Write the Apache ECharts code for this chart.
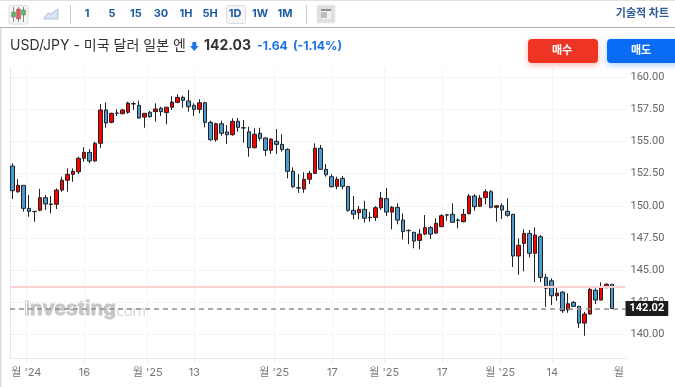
<!DOCTYPE html>
<html><head><meta charset="utf-8">
<style>html,body{margin:0;padding:0;background:#fff}#c{width:675px;height:387px}</style>
<script src="https://cdn.jsdelivr.net/npm/echarts@6/dist/echarts.min.js"></script>
</head><body><div id="c"></div>
<script>
const opens=[153.09,151.09,151.59,149.80,149.57,149.65,150.63,150.14,150.12,151.22,151.98,152.44,152.64,153.69,154.15,153.48,154.85,157.44,156.48,157.20,157.15,157.26,157.93,157.80,156.89,157.26,157.31,157.57,157.23,157.65,158.03,158.42,158.14,157.80,157.49,158.00,156.48,155.13,156.37,155.73,155.52,156.56,156.06,155.75,154.51,155.63,155.26,154.31,155.01,154.77,154.38,152.68,151.40,151.30,152.06,152.52,154.46,152.83,152.26,151.51,152.13,151.51,149.65,149.46,149.72,149.10,149.10,149.85,150.55,149.51,149.88,148.89,148.09,147.94,147.31,147.80,148.30,147.88,148.38,149.30,149.34,148.89,148.76,149.38,150.76,149.96,150.63,151.09,149.88,150.00,149.57,149.34,146.10,147.08,147.86,146.31,147.60,144.44,144.18,143.01,143.30,141.92,142.50,142.19,140.89,141.59,143.44,142.68,143.64,143.90];
const closes=[151.17,151.59,149.80,149.57,149.55,150.63,150.14,150.10,151.22,151.98,152.44,152.68,153.69,154.15,153.48,154.85,157.44,156.43,157.18,157.18,157.44,157.98,157.91,156.82,157.18,156.92,157.52,157.31,157.65,158.06,158.42,158.19,157.69,157.49,158.00,156.48,155.13,156.37,155.63,155.52,156.56,156.09,156.04,154.51,155.55,155.24,154.31,155.18,154.77,154.38,152.68,151.48,151.38,152.06,152.52,154.46,152.83,152.41,151.48,152.06,151.51,149.65,149.34,149.72,149.03,149.08,149.85,150.60,149.51,149.88,148.89,148.01,148.07,147.26,147.80,148.30,147.80,148.64,149.23,149.28,148.72,148.87,149.34,150.76,149.93,150.60,151.09,149.88,150.00,149.67,149.26,146.10,146.93,147.86,146.31,147.73,144.44,143.59,143.01,143.22,141.85,142.39,142.19,140.89,141.59,143.51,142.68,143.69,143.90,142.02];
const lows=[150.52,151.01,149.54,149.15,148.76,149.57,149.67,149.41,149.75,151.09,151.09,151.87,152.46,153.42,153.30,153.42,154.49,156.06,156.40,156.97,157.10,157.15,157.44,156.76,156.06,156.84,156.53,156.97,156.33,157.44,157.96,157.62,157.31,156.97,157.18,156.09,155.05,154.98,155.44,154.80,155.44,155.75,154.90,153.81,154.46,155.05,153.87,154.02,154.02,154.20,152.13,151.40,151.01,151.01,151.69,152.46,152.78,152.26,151.43,151.28,151.28,149.54,148.95,148.95,148.69,148.76,148.82,149.67,149.20,148.17,148.56,147.39,147.03,146.70,146.62,147.73,147.42,147.83,148.35,148.84,148.68,148.25,148.72,149.34,149.62,149.90,150.12,149.80,148.76,148.97,149.15,145.25,144.64,144.91,146.00,144.08,144.08,142.16,142.29,142.62,141.69,141.69,142.14,140.51,139.91,141.54,142.37,142.66,143.61,142.00];
const highs=[153.30,152.08,151.59,150.83,149.60,151.32,150.83,150.76,151.35,152.26,152.91,152.91,153.81,154.54,154.41,154.98,157.90,158.03,157.23,157.49,157.52,158.08,158.08,158.16,157.18,157.36,157.96,157.69,157.69,158.52,158.66,158.55,158.99,157.96,158.27,158.08,156.61,156.45,156.61,156.27,156.79,156.82,156.66,156.14,156.02,156.06,155.32,155.24,155.96,155.55,154.46,152.99,152.46,152.60,152.72,154.85,154.72,153.24,152.46,152.26,152.31,151.51,150.76,149.98,150.39,149.51,149.98,151.07,151.38,149.98,150.19,149.41,148.17,147.98,148.19,149.28,148.43,149.03,149.34,149.36,150.19,149.03,149.75,150.91,150.91,150.83,151.28,151.22,150.06,150.19,150.58,149.34,147.47,148.17,148.12,148.33,147.73,144.70,144.37,143.67,143.35,143.20,142.60,142.19,141.77,143.67,143.59,144.06,143.98,143.90];
const emptySlots=2;
const xTickPositions=[2.97,13.52,25.05,33.53,48.09,58.64,68.1,78.66,89.21,98.67];
const xTickLabels=["월 '24","16","월 '25","13","월 '25","17","월 '25","17","월 '25","14"];
const lastLabelPos=110.8, lastLabelText="월";
const yTicks=[140,142.5,145,147.5,150,152.5,155,157.5,160];
const yMin=138.18,yMax=160.70;
const lastPrice=142.02, prevCloseLevel=143.74;
const timeframes=["1","5","15","30","1H","5H","1D","1W","1M"];
const tfX=[87,112,136,161,186,210,235,260,285];
const cjk='"Inter","Noto Sans CJK KR",sans-serif';

const cats=opens.map((_,i)=>String(i));
for(let i=0;i<emptySlots;i++)cats.push('e'+i);
const ohlc=opens.map((o,i)=>[o,closes[i],lows[i],highs[i]]);
const labelVals=xTickPositions.concat([lastLabelPos]);
const labelTxt=xTickLabels.concat([lastLabelText]);

const g=[];
const rect=(x,y,w,h,fill,extra)=>g.push(Object.assign({type:'rect',silent:true,z:10,shape:{x,y,width:w,height:h,r:(extra&&extra.r)||0},style:Object.assign({fill},(extra&&extra.style)||{})}));
const text=(x,y,t,font,fill,align,z,extra)=>g.push({type:'text',silent:true,z:z===undefined?10:z,x,y,style:Object.assign({text:t,font,fill,align:align||'left',verticalAlign:'middle'},extra||{})});
rect(0,0,675,1,'#e0e0e0');
rect(0,27,675,1,'#b0b0b0');
rect(0,28,1.5,359,'#dcdcdc');
// toolbar
rect(9,5.5,19,18.5,'#f6f6f6',{r:2,style:{stroke:'#dcdcdc',lineWidth:1}});
rect(13,7,1,15,'#888');rect(18,7,1,15,'#888');rect(23,7,1,15,'#888');
rect(11.5,12,4,5,'#5cb85c',{style:{stroke:'#777',lineWidth:.5}});
rect(16.5,9,4,10,'#e25555',{style:{stroke:'#777',lineWidth:.5}});
rect(21.5,10,4,5,'#5cb85c',{style:{stroke:'#777',lineWidth:.5}});
g.push({type:'polygon',silent:true,z:10,shape:{points:[[44,18],[48,13],[51,14],[55,11],[58,9],[58,19],[44,19]]},style:{fill:'#dbe5f2',stroke:'#a9c0dc',lineWidth:1}});
rect(70,5,1,19,'#c8c8c8');
rect(226.5,5.5,19,18,'#f6f6f6',{r:2,style:{stroke:'#dddddd',lineWidth:1}});
timeframes.forEach((t,i)=>text(tfX[i],13.5,t,'bold 11px '+cjk,'#1d5ba6','center'));
rect(306,5,1,19,'#c8c8c8');
rect(317,5,18,18,'#dedede',{style:{stroke:'#eeeeee',lineWidth:1}});
rect(321,9,10,10,'#f2f2f2');rect(321,9,10,2,'#8f8f8f');rect(321,12,6,6,'#bdbdbd');
text(669,13.5,'기술적 차트','bold 11px '+cjk,'#2b5c9b','right');
// title
text(10,46,'USD/JPY - 미국 달러 일본 엔','14px '+cjk,'#333333');
g.push({type:'polygon',silent:true,z:10,shape:{points:[[192.3,42],[196.3,42],[196.3,46],[198.5,46],[194.3,51],[190,46],[192.3,46]]},style:{fill:'#1a73e8'}});
text(204,46,'142.03','bold 14px '+cjk,'#333333');
text(257,46,'-1.64','bold 12.2px '+cjk,'#1a73e8');
text(293,46,'(-1.14%)','bold 12.2px '+cjk,'#1a73e8');
rect(528,39,70,24,'#ee3524',{r:4,style:{shadowBlur:6,shadowColor:'rgba(238,53,36,.35)',shadowOffsetY:2}});
rect(607,39,72,24,'#0a6cf5',{r:4,style:{shadowBlur:6,shadowColor:'rgba(10,108,245,.35)',shadowOffsetY:2}});
text(562,51,'매수','bold 11px '+cjk,'#ffffff','center',11);
text(641,51,'매도','bold 11px '+cjk,'#ffffff','center',11);
// watermark
text(24,309,'Investing','bold 21px "Liberation Sans",sans-serif','#c6c6c6','left',0,{stroke:'#c6c6c6',lineWidth:0.9});
text(113,312,'.com','300 15px "Open Sans",sans-serif','#c4c4c4','left',0);

const chart=echarts.init(document.getElementById('c'),null,{renderer:'canvas'});
chart.setOption({
  animation:false,backgroundColor:'#fff',
  graphic:g,
  grid:{left:10,right:49.5,top:68,bottom:29,containLabel:false},
  xAxis:[
    {type:'category',data:cats,boundaryGap:true,show:false},
    {type:'value',min:0,max:cats.length,position:'bottom',
      axisLine:{show:true,onZero:false,lineStyle:{color:'#e4e7ec'}},
      axisTick:{show:true,length:4,customValues:xTickPositions,lineStyle:{color:'#e4e7ec'}},
      axisLabel:{show:true,customValues:labelVals,margin:9,color:'#777',fontSize:11,fontFamily:cjk,
        formatter:v=>{const i=labelVals.indexOf(v);return i<0?'':labelTxt[i];}},
      splitLine:{show:true,lineStyle:{color:'#f3f4f6'}}}
  ],
  yAxis:{type:'value',position:'right',min:yMin,max:yMax,scale:true,
    axisLine:{show:true,lineStyle:{color:'#e4e7ec'}},
    axisTick:{show:true,length:3,customValues:yTicks,lineStyle:{color:'#e4e7ec'}},
    axisLabel:{show:true,customValues:yTicks,margin:5,padding:[0,0,2,0],color:'#666',fontSize:11,fontFamily:'Roboto,sans-serif',formatter:v=>v.toFixed(2)},
    splitLine:{show:true,lineStyle:{color:'#f5f5f6'}}},
  series:[{type:'candlestick',xAxisIndex:0,data:ohlc,barWidth:4,clip:false,
    itemStyle:{color:'#ff0000',color0:'#4a9ad4',borderColor:'#222222',borderColor0:'#222222',borderWidth:1},
    markLine:{silent:true,symbol:'none',animation:false,
      data:[
        {yAxis:prevCloseLevel,lineStyle:{color:'#fbd2d2',width:2,type:'solid'},label:{show:false}},
        {yAxis:lastPrice,lineStyle:{color:'#8f8f8f',width:1.5,type:[5,4]},
         label:{show:true,position:'end',distance:0,formatter:lastPrice.toFixed(2),color:'#fff',fontWeight:'bold',fontSize:11,fontFamily:'Roboto,sans-serif',backgroundColor:'#1c1c1c',padding:[2,4,2,4]}}
      ]}
  }]
});
</script></body></html>
